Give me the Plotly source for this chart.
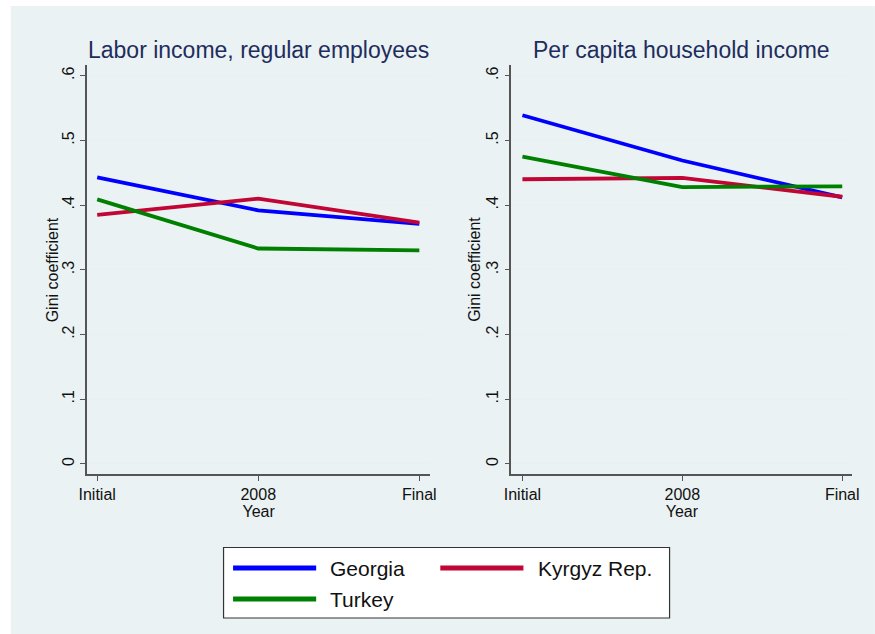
import plotly.graph_objects as go

# Gini coefficients by country and period
periods = ["Initial", "2008", "Final"]
countries = ["Georgia", "Kyrgyz Rep.", "Turkey"]
colors = ["#0000ff", "#c10534", "#008000"]

labor_georgia = [0.443, 0.392, 0.371]
labor_kyrgyz = [0.385, 0.410, 0.373]
labor_turkey = [0.409, 0.333, 0.330]

hh_georgia = [0.539, 0.469, 0.412]
hh_kyrgyz = [0.440, 0.442, 0.413]
hh_turkey = [0.475, 0.428, 0.429]

panel_titles = ["Labor income, regular employees", "Per capita household income"]
y_ticks = [0, 0.1, 0.2, 0.3, 0.4, 0.5, 0.6]
y_tick_text = ["0", ".1", ".2", ".3", ".4", ".5", ".6"]
y_title = "Gini coefficient"
x_title = "Year"

W, H = 875, 634
BG = "#eaf2f3"
FONT = "Liberation Sans, Arial, sans-serif"

fig = go.Figure()

x_pos = list(range(len(periods)))
panels = [
    ("x", "y", [labor_georgia, labor_kyrgyz, labor_turkey]),
    ("x2", "y2", [hh_georgia, hh_kyrgyz, hh_turkey]),
]
for xa, ya, series in panels:
    for name, color, vals in zip(countries, colors, series):
        fig.add_trace(go.Scatter(
            x=x_pos, y=vals, mode="lines", name=name,
            line=dict(color=color, width=3.8),
            xaxis=xa, yaxis=ya, showlegend=False,
        ))

axis_common = dict(
    showline=True, linecolor="#555555", linewidth=1.5,
    ticks="outside", ticklen=5, tickcolor="#555555", tickwidth=1,
    zeroline=False,
)

# pixel -> paper helpers (horizontal offset/scale of the page view)
def px_x(p):
    return (p - 8.2) / 0.9817 / W

def px_y(p):
    return 1 - p / H

x_domains = [(87, 430), (511, 851.5)]
y_domain = [px_y(474), px_y(65)]
x_ranges = [[-0.064, 2.068], [-0.069, 2.063]]
y_title_x = [53, 474]

for i, (xd, xr) in enumerate(zip(x_domains, x_ranges)):
    sfx = "" if i == 0 else str(i + 1)
    fig.update_layout(**{
        "xaxis" + sfx: dict(
            domain=[px_x(xd[0]), px_x(xd[1])], range=xr,
            tickvals=x_pos, ticktext=periods, showgrid=False,
            tickfont=dict(size=16, color="#111111", family=FONT),
            title=dict(text=x_title, font=dict(size=16, color="#111111", family=FONT), standoff=0),
            anchor="y" + sfx,
            **axis_common,
        ),
        "yaxis" + sfx: dict(
            domain=y_domain, range=[-0.0155, 0.6166],
            tickvals=y_ticks, ticktext=y_tick_text, tickangle=-90,
            showgrid=True, gridcolor="#e8f0f1", gridwidth=1,
            tickfont=dict(size=16, color="#111111", family=FONT),
            anchor="x" + sfx,
            **axis_common,
        ),
    })
    # vertical axis title
    fig.add_annotation(
        text=y_title, xref="paper", yref="paper",
        x=px_x(y_title_x[i]), y=px_y((65 + 474) / 2),
        xanchor="center", yanchor="middle", textangle=-90, showarrow=False,
        font=dict(size=16, color="#111111", family=FONT),
    )

# Panel titles
for title, xd in zip(panel_titles, x_domains):
    fig.add_annotation(
        text=title, xref="paper", yref="paper",
        x=px_x((xd[0] + xd[1]) / 2), y=px_y(50),
        xanchor="center", yanchor="middle", showarrow=False,
        font=dict(size=23, color="#1e2d5c", family=FONT),
    )

shapes = [
    # outer graph region
    dict(type="rect", xref="paper", yref="paper", layer="below",
         x0=px_x(11), x1=px_x(874), y0=px_y(634), y1=px_y(6),
         fillcolor=BG, line=dict(width=0)),
    # legend box
    dict(type="rect", xref="paper", yref="paper",
         x0=px_x(223.5), x1=px_x(669), y0=px_y(618), y1=px_y(547.5),
         fillcolor="white", line=dict(color="#333333", width=1.2), layer="below"),
]

# Legend entries: (swatch x start, text x start, row y)
legend_slots = [(233, 328, 568), (440, 536, 568), (233, 328, 599)]
for name, color, (sx, tx, ly) in zip(countries, colors, legend_slots):
    shapes.append(dict(type="line", xref="paper", yref="paper",
                       x0=px_x(sx), x1=px_x(sx + 83), y0=px_y(ly), y1=px_y(ly),
                       line=dict(color=color, width=5)))
    fig.add_annotation(
        text=name, xref="paper", yref="paper", x=px_x(tx), y=px_y(ly),
        xanchor="left", yanchor="middle", showarrow=False,
        font=dict(size=21, color="#111111", family=FONT),
    )

fig.update_layout(
    width=W, height=H,
    margin=dict(l=0, r=0, t=0, b=0),
    paper_bgcolor="white", plot_bgcolor="white",
    shapes=shapes, showlegend=False,
    font=dict(family=FONT),
)

fig.write_html("out.html")
